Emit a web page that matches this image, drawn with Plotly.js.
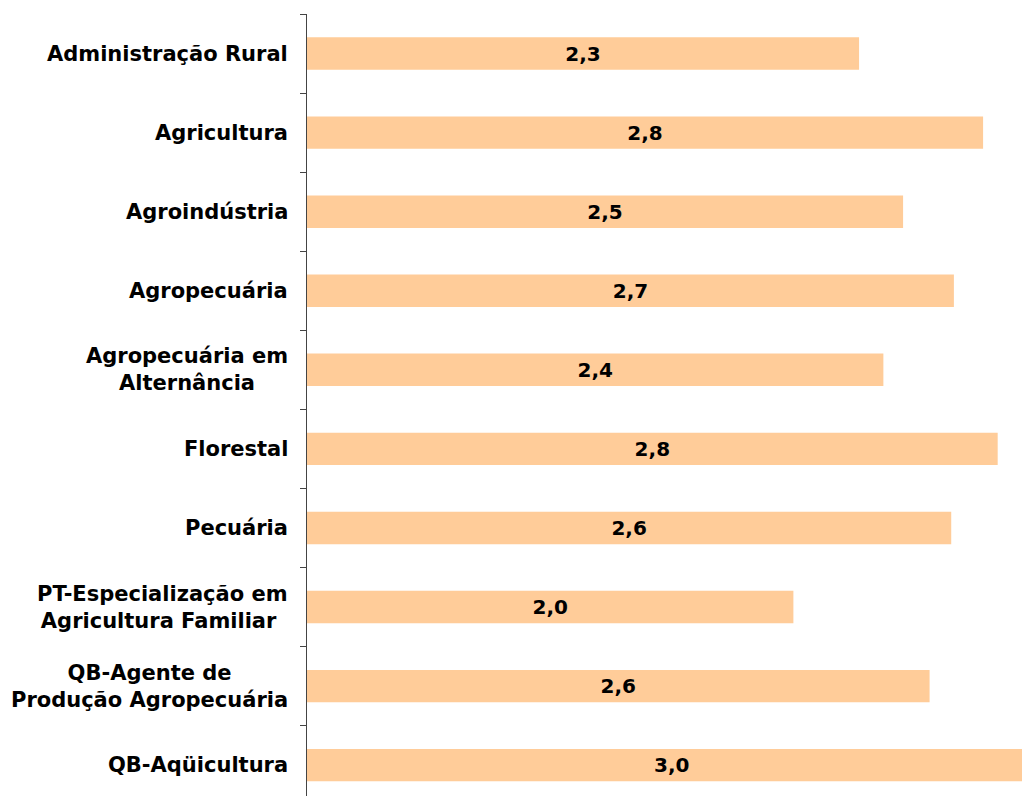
<!DOCTYPE html>
<html>
<head>
<meta charset="utf-8">
<script src="https://cdn.plot.ly/plotly-3.0.1.min.js"></script>
<style>
html,body{margin:0;padding:0;background:#fff;}
#chart{width:1022px;height:796px;}
</style>
</head>
<body>
<div id="chart"></div>
<script>
var categories = [
  "Administração Rural",
  "Agricultura",
  "Agroindústria",
  "Agropecuária",
  "Agropecuária em<br>Alternância",
  "Florestal",
  "Pecuária",
  "PT-Especialização em<br>Agricultura Familiar ",
  "QB-Agente de<br>Produção Agropecuária",
  "QB-Aqüicultura"
];
var values = [2.27, 2.78, 2.451, 2.66, 2.37, 2.84, 2.649, 2.0, 2.56, 3.0];
var valueLabels = values.map(function(v){ return v.toFixed(1).replace('.', ','); });

var FONT = "DejaVu Sans, Verdana, sans-serif";

var trace = {
  type: 'bar',
  orientation: 'h',
  x: values,
  y: categories,
  text: valueLabels,
  textposition: 'inside',
  insidetextanchor: 'middle',
  textangle: 0,
  constraintext: 'none',
  cliponaxis: true,
  textfont: {family: FONT, size: 20, color: '#000', weight: 'bold'},
  marker: {color: '#FFCC99', line: {width: 0}},
  hoverinfo: 'none'
};

var annotations = categories.map(function(c){
  return {
    xref: 'paper', yref: 'y',
    x: 0, y: c,
    xanchor: 'right', yanchor: 'middle',
    xshift: -17,
    align: 'center',
    showarrow: false,
    text: c,
    font: {family: FONT, size: 21, color: '#000', weight: 'bold'}
  };
});

var layout = {
  width: 1022, height: 796,
  margin: {l: 307, r: 0, t: 14, b: 0, pad: 0},
  paper_bgcolor: '#fff', plot_bgcolor: '#fff',
  showlegend: false,
  bargap: 0.59,
  xaxis: {
    range: [0, 2.94],
    showgrid: false, zeroline: false, showticklabels: false,
    showline: false, ticks: ''
  },
  yaxis: {
    type: 'category',
    categoryorder: 'array', categoryarray: categories,
    range: [9.39, -0.5],
    showgrid: false, zeroline: false,
    showline: true, linecolor: '#444', linewidth: 1,
    ticks: 'outside', ticklen: 6, tickcolor: '#444', tickwidth: 1,
    tickson: 'boundaries',
    showticklabels: false
  },
  annotations: annotations
};

Plotly.newPlot('chart', [trace], layout, {displayModeBar: false, staticPlot: true});
</script>
</body>
</html>
